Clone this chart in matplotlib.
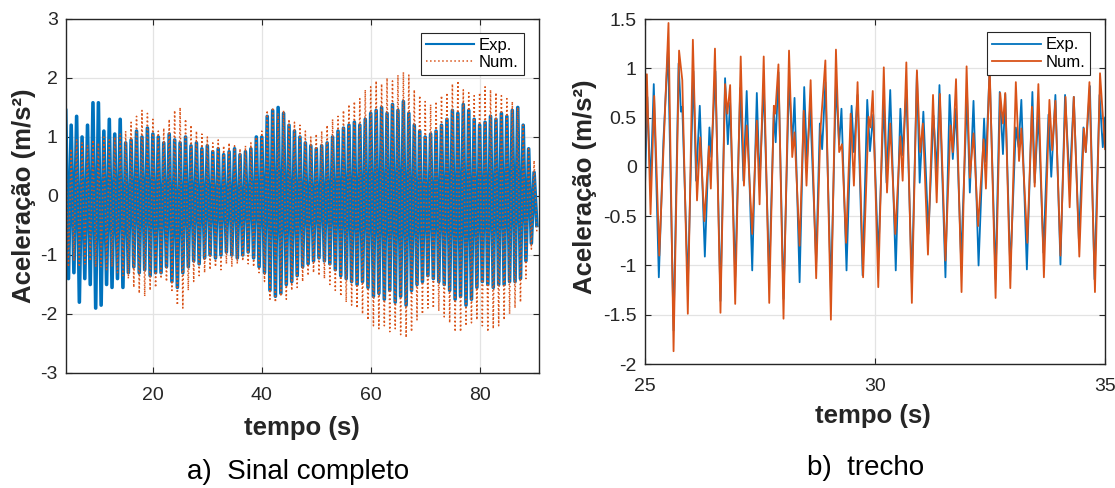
import numpy as np
import matplotlib.pyplot as plt

plt.rcParams['font.family'] = ['Liberation Sans', 'DejaVu Sans']
plt.rcParams['axes.unicode_minus'] = False

BLUE = '#0072BD'
ORANGE = '#D95319'

# ---- full signal: per-second peak / trough (t = 4..90 s)
t_env = np.arange(4, 91)
exp_hi = [1.45, 1.2, 1.35, 1.0, 1.2, 1.58, 1.58, 1.1, 1.3, 1.05, 1.3, 0.9, 0.95, 1.1, 1.0, 1.15,
          1.05, 1.0, 0.9, 1.05, 0.95, 0.9, 1.0, 0.85, 0.9, 0.8, 0.85, 0.75, 0.8, 0.7, 0.75, 0.8,
          0.7, 0.75, 0.8, 1.0, 1.0, 1.35, 1.45, 1.5, 1.4, 1.2, 1.1, 1.0, 0.9, 0.85, 0.8, 0.85,
          0.9, 1.0, 1.1, 1.15, 1.2, 1.25, 1.2, 1.3, 1.4, 1.45, 1.5, 1.4, 1.55, 1.45, 1.6, 1.4,
          1.2, 1.1, 1.0, 1.05, 1.1, 1.2, 1.3, 1.45, 1.4, 1.55, 1.45, 1.3, 1.2, 1.25, 1.35, 1.3,
          1.4, 1.35, 1.45, 1.5, 1.2, 0.8, 0.4]
exp_lo = [-1.4, -1.3, -1.8, -1.4, -1.5, -1.9, -1.85, -1.5, -1.55, -1.4, -1.55, -1.3, -1.2, -1.3,
          -1.25, -1.35, -1.3, -1.3, -1.2, -1.45, -1.55, -1.3, -1.2, -1.1, -1.15, -1.05, -1.0,
          -1.05, -1.0, -0.95, -1.0, -1.05, -1.0, -0.95, -1.05, -1.2, -1.3, -1.6, -1.7, -1.65,
          -1.5, -1.45, -1.35, -1.2, -1.15, -1.1, -1.05, -1.1, -1.15, -1.25, -1.35, -1.4, -1.45,
          -1.5, -1.45, -1.55, -1.7, -1.65, -1.75, -1.6, -1.8, -1.7, -1.85, -1.6, -1.5, -1.45,
          -1.35, -1.4, -1.45, -1.5, -1.6, -1.75, -1.7, -1.85, -1.75, -1.55, -1.45, -1.5, -1.55,
          -1.5, -1.5, -1.45, -1.45, -1.4, -1.1, -0.8, -0.5]
num_hi = [0.9, 0.8, 0.95, 0.9, 0.85, 0.95, 0.9, 1.0, 0.95, 1.0, 1.05, 1.1, 1.25, 1.35, 1.45,
          1.4, 1.3, 1.1, 1.15, 1.3, 1.45, 1.5, 1.3, 1.2, 1.1, 1.05, 1.0, 0.9, 0.95, 0.85, 0.9,
          0.85, 0.8, 0.85, 0.9, 1.0, 1.1, 1.45, 1.5, 1.4, 1.45, 1.3, 1.25, 1.2, 1.1, 1.0, 1.05,
          1.1, 1.2, 1.3, 1.35, 1.45, 1.55, 1.6, 1.65, 1.8, 1.85, 1.95, 1.9, 2.0, 1.95, 2.05, 2.1,
          2.05, 1.8, 1.7, 1.6, 1.55, 1.6, 1.7, 1.75, 1.9, 1.95, 1.8, 1.75, 1.7, 1.75, 1.85, 1.8,
          1.75, 1.7, 1.65, 1.6, 1.5, 1.2, 0.8, 0.6]
num_lo = [-1.2, -1.1, -1.2, -1.15, -1.1, -1.2, -1.2, -1.25, -1.2, -1.3, -1.35, -1.4, -1.55,
          -1.65, -1.7, -1.6, -1.55, -1.4, -1.45, -1.6, -1.85, -1.9, -1.6, -1.45, -1.35, -1.3,
          -1.25, -1.2, -1.25, -1.15, -1.2, -1.15, -1.1, -1.15, -1.2, -1.3, -1.45, -1.75, -1.8,
          -1.7, -1.75, -1.6, -1.55, -1.45, -1.35, -1.3, -1.35, -1.4, -1.5, -1.6, -1.7, -1.8,
          -1.85, -1.9, -2.0, -2.1, -2.2, -2.25, -2.2, -2.3, -2.25, -2.35, -2.4, -2.3, -2.1, -2.0,
          -1.9, -1.9, -1.95, -2.05, -2.15, -2.3, -2.3, -2.2, -2.15, -2.1, -2.2, -2.3, -2.25, -2.2,
          -2.1, -2.0, -1.9, -1.8, -1.4, -0.9, -0.6]

# ---- zoomed stretch 25-35 s: local extrema
exp_t = [25.00, 25.05, 25.12, 25.19, 25.30, 25.40, 25.50, 25.62, 25.73, 25.78, 25.81, 25.93,
         26.05, 26.11, 26.19, 26.30, 26.40, 26.44, 26.53, 26.64, 26.74, 26.80, 26.85, 26.96,
         27.07, 27.14, 27.21, 27.33, 27.43, 27.49, 27.58, 27.70, 27.80, 27.84, 27.90, 28.01,
         28.13, 28.20, 28.25, 28.36, 28.46, 28.52, 28.59, 28.72, 28.80, 28.85, 28.92, 29.04,
         29.15, 29.22, 29.27, 29.38, 29.49, 29.54, 29.62, 29.73, 29.83, 29.89, 29.96,
         30.07, 30.19, 30.25, 30.33, 30.45, 30.55, 30.60, 30.68, 30.80, 30.91, 30.97, 31.05,
         31.16, 31.27, 31.34, 31.40, 31.53, 31.62, 31.69, 31.76, 31.87, 32.00, 32.06, 32.14,
         32.25, 32.37, 32.41, 32.49, 32.62, 32.71, 32.78, 32.83, 32.94, 33.06, 33.12, 33.18,
         33.30, 33.42, 33.47, 33.55, 33.66, 33.77, 33.83, 33.92, 34.03, 34.13, 34.23, 34.32,
         34.43, 34.53, 34.58, 34.67, 34.77, 34.88, 34.95, 35.00]
exp_v = [-0.19, 0.71, -0.21, 0.84, -1.12, 0.27, 1.20, -1.66, 1.05, 0.56, 0.61, -1.21,
         0.97, -0.14, 0.62, -0.91, 0.40, 0.10, 0.97, -1.36, 0.90, 0.23, 0.65, -1.12,
         0.80, -0.14, 0.77, -1.05, 0.75, -0.17, 0.83, -1.13, 0.56, 0.25, 0.96, -1.34,
         0.88, 0.23, 0.70, -1.17, 0.81, 0.07, 0.62, -0.97, 0.44, 0.18, 0.86, -1.26,
         0.85, 0.23, 0.59, -1.05, 0.62, 0.15, 0.73, -1.10, 0.68, 0.16, 0.53,
         -0.92, 0.66, -0.16, 0.78, -1.05, 0.59, 0.12, 0.78, -1.18, 0.96, -0.16, 0.56,
         -0.68, 0.52, -0.07, 0.83, -1.12, 0.73, 0.08, 0.59, -0.94, 0.72, -0.26, 0.67,
         -1.00, 0.49, 0.05, 0.98, -1.14, 0.76, 0.13, 0.74, -1.05, 0.40, 0.20, 0.68,
         -1.04, 0.76, -0.16, 0.55, -0.87, 0.53, -0.10, 0.73, -0.99, 0.73, -0.16, 0.71,
         -0.73, 0.40, 0.15, 0.82, -1.14, 0.73, 0.20, 0.50]
num_t = [25.00, 25.04, 25.12, 25.20, 25.31, 25.51, 25.62, 25.74, 25.81, 25.93, 26.04, 26.13,
         26.20, 26.29, 26.39, 26.43, 26.52, 26.64, 26.74, 26.79, 26.85, 26.96, 27.08, 27.15,
         27.21, 27.33, 27.43, 27.49, 27.58, 27.70, 27.80, 27.83, 27.90, 28.01, 28.13, 28.20,
         28.25, 28.36, 28.45, 28.51, 28.60, 28.72, 28.81, 28.92, 29.04, 29.15, 29.22, 29.28,
         29.37, 29.47, 29.54, 29.62, 29.74, 29.86, 29.90, 29.95,
         30.07, 30.19, 30.26, 30.33, 30.44, 30.55, 30.60, 30.68, 30.80, 30.91, 30.98, 31.04,
         31.15, 31.26, 31.34, 31.41, 31.53, 31.64, 31.69, 31.76, 31.88, 31.99, 32.06, 32.14,
         32.24, 32.36, 32.41, 32.49, 32.62, 32.72, 32.78, 32.83, 32.94, 33.06, 33.13, 33.18,
         33.31, 33.41, 33.47, 33.55, 33.67, 33.79, 33.85, 33.92, 34.03, 34.14, 34.23, 34.32,
         34.44, 34.54, 34.58, 34.66, 34.78, 34.89, 35.00]
num_v = [0.10, 0.94, -0.48, 0.72, -0.90, 1.46, -1.87, 1.18, 0.88, -1.49, 1.29, -0.34,
         0.30, -0.55, 0.21, -0.22, 1.20, -1.48, 0.84, 0.54, 0.83, -1.39, 1.12, -0.19,
         0.42, -0.68, 0.47, -0.38, 1.12, -1.38, 0.62, 0.54, 1.04, -1.54, 1.18, 0.10,
         0.35, -0.80, 0.57, -0.19, 0.88, -1.13, 0.35, 1.08, -1.55, 1.19, 0.15, 0.23,
         -0.77, 0.54, -0.19, 0.86, -1.12, 0.51, 0.40, 0.77,
         -1.22, 1.01, -0.26, 0.44, -0.68, 0.31, -0.14, 1.06, -1.38, 0.98, 0.15, 0.44,
         -0.89, 0.73, -0.36, 0.74, -0.95, 0.42, 0.15, 0.89, -1.27, 1.02, -0.11, 0.34,
         -0.60, 0.28, -0.22, 1.04, -1.33, 0.75, 0.44, 0.75, -1.23, 0.86, 0.06, 0.39,
         -0.77, 0.61, -0.20, 0.84, -1.12, 0.68, 0.17, 0.67, -0.90, 0.71, -0.41, 0.71,
         -0.91, 0.39, 0.15, 0.86, -1.27, 0.95, 0.18]


def zigzag(t, hi, lo):
    # peak then trough inside each second
    x = np.ravel(np.column_stack([t, np.asarray(t) + 0.5]))
    y = np.ravel(np.column_stack([hi, lo]))
    return x, y


def style_axes(ax):
    ax.grid(True, color='#e3e3e3', linewidth=0.9)
    ax.set_axisbelow(True)
    for s in ax.spines.values():
        s.set_color('#262626')
        s.set_linewidth(1.0)
    ax.tick_params(direction='in', top=True, right=True, length=4,
                   labelsize=14, colors='#262626')
    ax.tick_params(axis='x', pad=10)
    ax.tick_params(axis='y', pad=6)


def add_legend(ax):
    leg = ax.legend(loc='upper right', fontsize=12, fancybox=False, framealpha=1,
                    edgecolor='#262626', borderpad=0.3, labelspacing=0.15,
                    handlelength=2.9, handletextpad=0.3, borderaxespad=0,
                    bbox_to_anchor=(0.968, 0.961))
    leg.get_frame().set_linewidth(0.8)


fig = plt.figure(figsize=(11.15, 4.88), dpi=100)

# a) full signal
ax1 = fig.add_axes([0.0592, 0.2357, 0.4242, 0.7254])
style_axes(ax1)
ex, ey = zigzag(t_env, exp_hi, exp_lo)
nx, ny = zigzag(t_env, num_hi, num_lo)
ax1.plot(ex, ey, color=BLUE, linewidth=2.6, label='Exp.')
ax1.plot(nx, ny, color=ORANGE, linewidth=1.1, linestyle=':', label='Num.')
ax1.set_xlim(4.05, 90.9)
ax1.set_ylim(-3, 3)
ax1.set_xticks([20, 40, 60, 80])
ax1.set_yticks([-3, -2, -1, 0, 1, 2, 3])
add_legend(ax1)
ax1.get_legend().get_lines()[0].set_linewidth(1.5)

# b) stretch
ax2 = fig.add_axes([0.5785, 0.254, 0.4126, 0.707])
style_axes(ax2)
ax2.plot(exp_t, exp_v, color=BLUE, linewidth=1.3, label='Exp.')
ax2.plot(num_t, num_v, color=ORANGE, linewidth=1.3, label='Num.')
ax2.set_xlim(25, 35)
ax2.set_ylim(-2, 1.5)
ax2.set_xticks([25, 30, 35])
ax2.set_yticks([-2, -1.5, -1, -0.5, 0, 0.5, 1, 1.5])
ax2.set_yticklabels(['-2', '-1.5', '-1', '-0.5', '0', '0.5', '1', '1.5'])
add_legend(ax2)

# labels and captions
lab = dict(fontsize=18.5, fontweight='bold', color='#262626', ha='center', va='center')
fig.text(24 / 1115, 1 - 196 / 488, 'Aceleração (m/s²)', rotation=90, **lab)
fig.text(585 / 1115, 1 - 187 / 488, 'Aceleração (m/s²)', rotation=90, **lab)
fig.text(302 / 1115, 1 - 428 / 488, 'tempo (s)', **lab)
fig.text(873 / 1115, 1 - 416 / 488, 'tempo (s)', **lab)
fig.text(298 / 1115, 1 - 472 / 488, 'a)  Sinal completo', fontsize=20, ha='center', va='center')
fig.text(866 / 1115, 1 - 468 / 488, 'b)  trecho', fontsize=20, ha='center', va='center')

fig.savefig('out.png', dpi=100)
